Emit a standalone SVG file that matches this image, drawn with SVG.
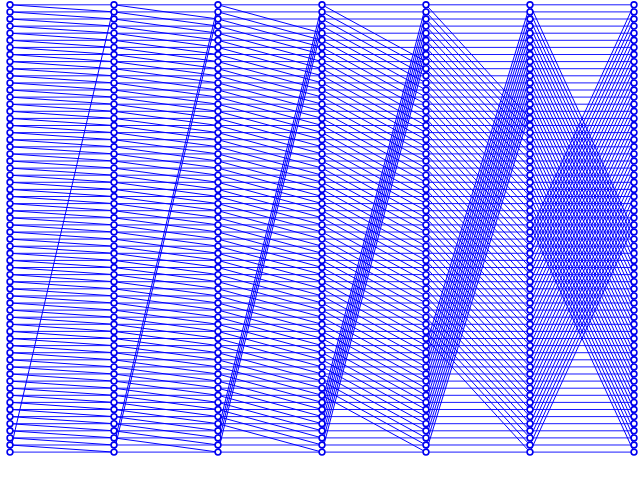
<svg xmlns="http://www.w3.org/2000/svg" width="640" height="483" viewBox="0 0 640 483">
<style>
.e{fill:none;stroke:#0000ff;stroke-width:1;vector-effect:non-scaling-stroke}
.h{fill:none;stroke:#1a1aff;stroke-width:1;vector-effect:non-scaling-stroke}
circle{fill:#fff;stroke:#0000ee;stroke-width:1.6}
</style>
<rect width="640" height="483" fill="#fff"/>
<g id="connectors" transform="translate(10 4.8) scale(104 7.1)">
<path class="h" d="M0 0H6M0 1H6M0 2H6M0 3H6M0 4H6M0 5H6M0 6H6M0 7H6M0 8H6M0 9H6M0 10H6M0 11H6M0 12H6M0 13H6M0 14H6M0 15H6M0 16H6M0 17H6M0 18H6M0 19H6M0 20H6M0 21H6M0 22H6M0 23H6M0 24H6M0 25H6M0 26H6M0 27H6M0 28H6M0 29H6M0 30H6M0 31H6M0 32H6M0 33H6M0 34H6M0 35H6M0 36H6M0 37H6M0 38H6M0 39H6M0 40H6M0 41H6M0 42H6M0 43H6M0 44H6M0 45H6M0 46H6M0 47H6M0 48H6M0 49H6M0 50H6M0 51H6M0 52H6M0 53H6M0 54H6M0 55H6M0 56H6M0 57H6M0 58H6M0 59H6M0 60H6M0 61H6M0 62H6M0 63H6"/>
<path class="e" d="M0 0l1 1M0 1l1 1M0 2l1 1M0 3l1 1M0 4l1 1M0 5l1 1M0 6l1 1M0 7l1 1M0 8l1 1M0 9l1 1M0 10l1 1M0 11l1 1M0 12l1 1M0 13l1 1M0 14l1 1M0 15l1 1M0 16l1 1M0 17l1 1M0 18l1 1M0 19l1 1M0 20l1 1M0 21l1 1M0 22l1 1M0 23l1 1M0 24l1 1M0 25l1 1M0 26l1 1M0 27l1 1M0 28l1 1M0 29l1 1M0 30l1 1M0 31l1 1M0 32l1 1M0 33l1 1M0 34l1 1M0 35l1 1M0 36l1 1M0 37l1 1M0 38l1 1M0 39l1 1M0 40l1 1M0 41l1 1M0 42l1 1M0 43l1 1M0 44l1 1M0 45l1 1M0 46l1 1M0 47l1 1M0 48l1 1M0 49l1 1M0 50l1 1M0 51l1 1M0 52l1 1M0 53l1 1M0 54l1 1M0 55l1 1M0 56l1 1M0 57l1 1M0 58l1 1M0 59l1 1M0 60l1 1M0 61l1 1M0 62l1 1M0 63L1 0"/>
<path class="e" d="M1 0l1 2M1 1l1 2M1 2l1 2M1 3l1 2M1 4l1 2M1 5l1 2M1 6l1 2M1 7l1 2M1 8l1 2M1 9l1 2M1 10l1 2M1 11l1 2M1 12l1 2M1 13l1 2M1 14l1 2M1 15l1 2M1 16l1 2M1 17l1 2M1 18l1 2M1 19l1 2M1 20l1 2M1 21l1 2M1 22l1 2M1 23l1 2M1 24l1 2M1 25l1 2M1 26l1 2M1 27l1 2M1 28l1 2M1 29l1 2M1 30l1 2M1 31l1 2M1 32l1 2M1 33l1 2M1 34l1 2M1 35l1 2M1 36l1 2M1 37l1 2M1 38l1 2M1 39l1 2M1 40l1 2M1 41l1 2M1 42l1 2M1 43l1 2M1 44l1 2M1 45l1 2M1 46l1 2M1 47l1 2M1 48l1 2M1 49l1 2M1 50l1 2M1 51l1 2M1 52l1 2M1 53l1 2M1 54l1 2M1 55l1 2M1 56l1 2M1 57l1 2M1 58l1 2M1 59l1 2M1 60l1 2M1 61l1 2M1 62L2 0M1 63L2 1"/>
<path class="e" d="M2 0l1 4M2 1l1 4M2 2l1 4M2 3l1 4M2 4l1 4M2 5l1 4M2 6l1 4M2 7l1 4M2 8l1 4M2 9l1 4M2 10l1 4M2 11l1 4M2 12l1 4M2 13l1 4M2 14l1 4M2 15l1 4M2 16l1 4M2 17l1 4M2 18l1 4M2 19l1 4M2 20l1 4M2 21l1 4M2 22l1 4M2 23l1 4M2 24l1 4M2 25l1 4M2 26l1 4M2 27l1 4M2 28l1 4M2 29l1 4M2 30l1 4M2 31l1 4M2 32l1 4M2 33l1 4M2 34l1 4M2 35l1 4M2 36l1 4M2 37l1 4M2 38l1 4M2 39l1 4M2 40l1 4M2 41l1 4M2 42l1 4M2 43l1 4M2 44l1 4M2 45l1 4M2 46l1 4M2 47l1 4M2 48l1 4M2 49l1 4M2 50l1 4M2 51l1 4M2 52l1 4M2 53l1 4M2 54l1 4M2 55l1 4M2 56l1 4M2 57l1 4M2 58l1 4M2 59l1 4M2 60L3 0M2 61L3 1M2 62L3 2M2 63L3 3"/>
<path class="e" d="M3 0l1 8M3 1l1 8M3 2l1 8M3 3l1 8M3 4l1 8M3 5l1 8M3 6l1 8M3 7l1 8M3 8l1 8M3 9l1 8M3 10l1 8M3 11l1 8M3 12l1 8M3 13l1 8M3 14l1 8M3 15l1 8M3 16l1 8M3 17l1 8M3 18l1 8M3 19l1 8M3 20l1 8M3 21l1 8M3 22l1 8M3 23l1 8M3 24l1 8M3 25l1 8M3 26l1 8M3 27l1 8M3 28l1 8M3 29l1 8M3 30l1 8M3 31l1 8M3 32l1 8M3 33l1 8M3 34l1 8M3 35l1 8M3 36l1 8M3 37l1 8M3 38l1 8M3 39l1 8M3 40l1 8M3 41l1 8M3 42l1 8M3 43l1 8M3 44l1 8M3 45l1 8M3 46l1 8M3 47l1 8M3 48l1 8M3 49l1 8M3 50l1 8M3 51l1 8M3 52l1 8M3 53l1 8M3 54l1 8M3 55l1 8M3 56L4 0M3 57L4 1M3 58L4 2M3 59L4 3M3 60L4 4M3 61L4 5M3 62L4 6M3 63L4 7"/>
<path class="e" d="M4 0l1 16M4 1l1 16M4 2l1 16M4 3l1 16M4 4l1 16M4 5l1 16M4 6l1 16M4 7l1 16M4 8l1 16M4 9l1 16M4 10l1 16M4 11l1 16M4 12l1 16M4 13l1 16M4 14l1 16M4 15l1 16M4 16l1 16M4 17l1 16M4 18l1 16M4 19l1 16M4 20l1 16M4 21l1 16M4 22l1 16M4 23l1 16M4 24l1 16M4 25l1 16M4 26l1 16M4 27l1 16M4 28l1 16M4 29l1 16M4 30l1 16M4 31l1 16M4 32l1 16M4 33l1 16M4 34l1 16M4 35l1 16M4 36l1 16M4 37l1 16M4 38l1 16M4 39l1 16M4 40l1 16M4 41l1 16M4 42l1 16M4 43l1 16M4 44l1 16M4 45l1 16M4 46l1 16M4 47l1 16M4 48L5 0M4 49L5 1M4 50L5 2M4 51L5 3M4 52L5 4M4 53L5 5M4 54L5 6M4 55L5 7M4 56L5 8M4 57L5 9M4 58L5 10M4 59L5 11M4 60L5 12M4 61L5 13M4 62L5 14M4 63L5 15"/>
<path class="e" d="M5 0l1 32M5 1l1 32M5 2l1 32M5 3l1 32M5 4l1 32M5 5l1 32M5 6l1 32M5 7l1 32M5 8l1 32M5 9l1 32M5 10l1 32M5 11l1 32M5 12l1 32M5 13l1 32M5 14l1 32M5 15l1 32M5 16l1 32M5 17l1 32M5 18l1 32M5 19l1 32M5 20l1 32M5 21l1 32M5 22l1 32M5 23l1 32M5 24l1 32M5 25l1 32M5 26l1 32M5 27l1 32M5 28l1 32M5 29l1 32M5 30l1 32M5 31l1 32M5 32L6 0M5 33L6 1M5 34L6 2M5 35L6 3M5 36L6 4M5 37L6 5M5 38L6 6M5 39L6 7M5 40L6 8M5 41L6 9M5 42L6 10M5 43L6 11M5 44L6 12M5 45L6 13M5 46L6 14M5 47L6 15M5 48L6 16M5 49L6 17M5 50L6 18M5 51L6 19M5 52L6 20M5 53L6 21M5 54L6 22M5 55L6 23M5 56L6 24M5 57L6 25M5 58L6 26M5 59L6 27M5 60L6 28M5 61L6 29M5 62L6 30M5 63L6 31"/>
</g>
<g id="col0" transform="translate(10 0)">
<g id="n0-0"><circle cy="4.8" r="2.9"/></g><g id="n0-1"><circle cy="11.9" r="2.9"/></g><g id="n0-2"><circle cy="19" r="2.9"/></g><g id="n0-3"><circle cy="26.1" r="2.9"/></g><g id="n0-4"><circle cy="33.2" r="2.9"/></g><g id="n0-5"><circle cy="40.3" r="2.9"/></g><g id="n0-6"><circle cy="47.4" r="2.9"/></g><g id="n0-7"><circle cy="54.5" r="2.9"/></g><g id="n0-8"><circle cy="61.6" r="2.9"/></g><g id="n0-9"><circle cy="68.7" r="2.9"/></g><g id="n0-10"><circle cy="75.8" r="2.9"/></g><g id="n0-11"><circle cy="82.9" r="2.9"/></g><g id="n0-12"><circle cy="90" r="2.9"/></g><g id="n0-13"><circle cy="97.1" r="2.9"/></g><g id="n0-14"><circle cy="104.2" r="2.9"/></g><g id="n0-15"><circle cy="111.3" r="2.9"/></g><g id="n0-16"><circle cy="118.4" r="2.9"/></g><g id="n0-17"><circle cy="125.5" r="2.9"/></g><g id="n0-18"><circle cy="132.6" r="2.9"/></g><g id="n0-19"><circle cy="139.7" r="2.9"/></g><g id="n0-20"><circle cy="146.8" r="2.9"/></g><g id="n0-21"><circle cy="153.9" r="2.9"/></g><g id="n0-22"><circle cy="161" r="2.9"/></g><g id="n0-23"><circle cy="168.1" r="2.9"/></g><g id="n0-24"><circle cy="175.2" r="2.9"/></g><g id="n0-25"><circle cy="182.3" r="2.9"/></g><g id="n0-26"><circle cy="189.4" r="2.9"/></g><g id="n0-27"><circle cy="196.5" r="2.9"/></g><g id="n0-28"><circle cy="203.6" r="2.9"/></g><g id="n0-29"><circle cy="210.7" r="2.9"/></g><g id="n0-30"><circle cy="217.8" r="2.9"/></g><g id="n0-31"><circle cy="224.9" r="2.9"/></g><g id="n0-32"><circle cy="232" r="2.9"/></g><g id="n0-33"><circle cy="239.1" r="2.9"/></g><g id="n0-34"><circle cy="246.2" r="2.9"/></g><g id="n0-35"><circle cy="253.3" r="2.9"/></g><g id="n0-36"><circle cy="260.4" r="2.9"/></g><g id="n0-37"><circle cy="267.5" r="2.9"/></g><g id="n0-38"><circle cy="274.6" r="2.9"/></g><g id="n0-39"><circle cy="281.7" r="2.9"/></g><g id="n0-40"><circle cy="288.8" r="2.9"/></g><g id="n0-41"><circle cy="295.9" r="2.9"/></g><g id="n0-42"><circle cy="303" r="2.9"/></g><g id="n0-43"><circle cy="310.1" r="2.9"/></g><g id="n0-44"><circle cy="317.2" r="2.9"/></g><g id="n0-45"><circle cy="324.3" r="2.9"/></g><g id="n0-46"><circle cy="331.4" r="2.9"/></g><g id="n0-47"><circle cy="338.5" r="2.9"/></g><g id="n0-48"><circle cy="345.6" r="2.9"/></g><g id="n0-49"><circle cy="352.7" r="2.9"/></g><g id="n0-50"><circle cy="359.8" r="2.9"/></g><g id="n0-51"><circle cy="366.9" r="2.9"/></g><g id="n0-52"><circle cy="374" r="2.9"/></g><g id="n0-53"><circle cy="381.1" r="2.9"/></g><g id="n0-54"><circle cy="388.2" r="2.9"/></g><g id="n0-55"><circle cy="395.3" r="2.9"/></g><g id="n0-56"><circle cy="402.4" r="2.9"/></g><g id="n0-57"><circle cy="409.5" r="2.9"/></g><g id="n0-58"><circle cy="416.6" r="2.9"/></g><g id="n0-59"><circle cy="423.7" r="2.9"/></g><g id="n0-60"><circle cy="430.8" r="2.9"/></g><g id="n0-61"><circle cy="437.9" r="2.9"/></g><g id="n0-62"><circle cy="445" r="2.9"/></g><g id="n0-63"><circle cy="452.1" r="2.9"/></g>
</g>
<g id="col1" transform="translate(114 0)">
<g id="n1-0"><circle cy="4.8" r="2.9"/></g><g id="n1-1"><circle cy="11.9" r="2.9"/></g><g id="n1-2"><circle cy="19" r="2.9"/></g><g id="n1-3"><circle cy="26.1" r="2.9"/></g><g id="n1-4"><circle cy="33.2" r="2.9"/></g><g id="n1-5"><circle cy="40.3" r="2.9"/></g><g id="n1-6"><circle cy="47.4" r="2.9"/></g><g id="n1-7"><circle cy="54.5" r="2.9"/></g><g id="n1-8"><circle cy="61.6" r="2.9"/></g><g id="n1-9"><circle cy="68.7" r="2.9"/></g><g id="n1-10"><circle cy="75.8" r="2.9"/></g><g id="n1-11"><circle cy="82.9" r="2.9"/></g><g id="n1-12"><circle cy="90" r="2.9"/></g><g id="n1-13"><circle cy="97.1" r="2.9"/></g><g id="n1-14"><circle cy="104.2" r="2.9"/></g><g id="n1-15"><circle cy="111.3" r="2.9"/></g><g id="n1-16"><circle cy="118.4" r="2.9"/></g><g id="n1-17"><circle cy="125.5" r="2.9"/></g><g id="n1-18"><circle cy="132.6" r="2.9"/></g><g id="n1-19"><circle cy="139.7" r="2.9"/></g><g id="n1-20"><circle cy="146.8" r="2.9"/></g><g id="n1-21"><circle cy="153.9" r="2.9"/></g><g id="n1-22"><circle cy="161" r="2.9"/></g><g id="n1-23"><circle cy="168.1" r="2.9"/></g><g id="n1-24"><circle cy="175.2" r="2.9"/></g><g id="n1-25"><circle cy="182.3" r="2.9"/></g><g id="n1-26"><circle cy="189.4" r="2.9"/></g><g id="n1-27"><circle cy="196.5" r="2.9"/></g><g id="n1-28"><circle cy="203.6" r="2.9"/></g><g id="n1-29"><circle cy="210.7" r="2.9"/></g><g id="n1-30"><circle cy="217.8" r="2.9"/></g><g id="n1-31"><circle cy="224.9" r="2.9"/></g><g id="n1-32"><circle cy="232" r="2.9"/></g><g id="n1-33"><circle cy="239.1" r="2.9"/></g><g id="n1-34"><circle cy="246.2" r="2.9"/></g><g id="n1-35"><circle cy="253.3" r="2.9"/></g><g id="n1-36"><circle cy="260.4" r="2.9"/></g><g id="n1-37"><circle cy="267.5" r="2.9"/></g><g id="n1-38"><circle cy="274.6" r="2.9"/></g><g id="n1-39"><circle cy="281.7" r="2.9"/></g><g id="n1-40"><circle cy="288.8" r="2.9"/></g><g id="n1-41"><circle cy="295.9" r="2.9"/></g><g id="n1-42"><circle cy="303" r="2.9"/></g><g id="n1-43"><circle cy="310.1" r="2.9"/></g><g id="n1-44"><circle cy="317.2" r="2.9"/></g><g id="n1-45"><circle cy="324.3" r="2.9"/></g><g id="n1-46"><circle cy="331.4" r="2.9"/></g><g id="n1-47"><circle cy="338.5" r="2.9"/></g><g id="n1-48"><circle cy="345.6" r="2.9"/></g><g id="n1-49"><circle cy="352.7" r="2.9"/></g><g id="n1-50"><circle cy="359.8" r="2.9"/></g><g id="n1-51"><circle cy="366.9" r="2.9"/></g><g id="n1-52"><circle cy="374" r="2.9"/></g><g id="n1-53"><circle cy="381.1" r="2.9"/></g><g id="n1-54"><circle cy="388.2" r="2.9"/></g><g id="n1-55"><circle cy="395.3" r="2.9"/></g><g id="n1-56"><circle cy="402.4" r="2.9"/></g><g id="n1-57"><circle cy="409.5" r="2.9"/></g><g id="n1-58"><circle cy="416.6" r="2.9"/></g><g id="n1-59"><circle cy="423.7" r="2.9"/></g><g id="n1-60"><circle cy="430.8" r="2.9"/></g><g id="n1-61"><circle cy="437.9" r="2.9"/></g><g id="n1-62"><circle cy="445" r="2.9"/></g><g id="n1-63"><circle cy="452.1" r="2.9"/></g>
</g>
<g id="col2" transform="translate(218 0)">
<g id="n2-0"><circle cy="4.8" r="2.9"/></g><g id="n2-1"><circle cy="11.9" r="2.9"/></g><g id="n2-2"><circle cy="19" r="2.9"/></g><g id="n2-3"><circle cy="26.1" r="2.9"/></g><g id="n2-4"><circle cy="33.2" r="2.9"/></g><g id="n2-5"><circle cy="40.3" r="2.9"/></g><g id="n2-6"><circle cy="47.4" r="2.9"/></g><g id="n2-7"><circle cy="54.5" r="2.9"/></g><g id="n2-8"><circle cy="61.6" r="2.9"/></g><g id="n2-9"><circle cy="68.7" r="2.9"/></g><g id="n2-10"><circle cy="75.8" r="2.9"/></g><g id="n2-11"><circle cy="82.9" r="2.9"/></g><g id="n2-12"><circle cy="90" r="2.9"/></g><g id="n2-13"><circle cy="97.1" r="2.9"/></g><g id="n2-14"><circle cy="104.2" r="2.9"/></g><g id="n2-15"><circle cy="111.3" r="2.9"/></g><g id="n2-16"><circle cy="118.4" r="2.9"/></g><g id="n2-17"><circle cy="125.5" r="2.9"/></g><g id="n2-18"><circle cy="132.6" r="2.9"/></g><g id="n2-19"><circle cy="139.7" r="2.9"/></g><g id="n2-20"><circle cy="146.8" r="2.9"/></g><g id="n2-21"><circle cy="153.9" r="2.9"/></g><g id="n2-22"><circle cy="161" r="2.9"/></g><g id="n2-23"><circle cy="168.1" r="2.9"/></g><g id="n2-24"><circle cy="175.2" r="2.9"/></g><g id="n2-25"><circle cy="182.3" r="2.9"/></g><g id="n2-26"><circle cy="189.4" r="2.9"/></g><g id="n2-27"><circle cy="196.5" r="2.9"/></g><g id="n2-28"><circle cy="203.6" r="2.9"/></g><g id="n2-29"><circle cy="210.7" r="2.9"/></g><g id="n2-30"><circle cy="217.8" r="2.9"/></g><g id="n2-31"><circle cy="224.9" r="2.9"/></g><g id="n2-32"><circle cy="232" r="2.9"/></g><g id="n2-33"><circle cy="239.1" r="2.9"/></g><g id="n2-34"><circle cy="246.2" r="2.9"/></g><g id="n2-35"><circle cy="253.3" r="2.9"/></g><g id="n2-36"><circle cy="260.4" r="2.9"/></g><g id="n2-37"><circle cy="267.5" r="2.9"/></g><g id="n2-38"><circle cy="274.6" r="2.9"/></g><g id="n2-39"><circle cy="281.7" r="2.9"/></g><g id="n2-40"><circle cy="288.8" r="2.9"/></g><g id="n2-41"><circle cy="295.9" r="2.9"/></g><g id="n2-42"><circle cy="303" r="2.9"/></g><g id="n2-43"><circle cy="310.1" r="2.9"/></g><g id="n2-44"><circle cy="317.2" r="2.9"/></g><g id="n2-45"><circle cy="324.3" r="2.9"/></g><g id="n2-46"><circle cy="331.4" r="2.9"/></g><g id="n2-47"><circle cy="338.5" r="2.9"/></g><g id="n2-48"><circle cy="345.6" r="2.9"/></g><g id="n2-49"><circle cy="352.7" r="2.9"/></g><g id="n2-50"><circle cy="359.8" r="2.9"/></g><g id="n2-51"><circle cy="366.9" r="2.9"/></g><g id="n2-52"><circle cy="374" r="2.9"/></g><g id="n2-53"><circle cy="381.1" r="2.9"/></g><g id="n2-54"><circle cy="388.2" r="2.9"/></g><g id="n2-55"><circle cy="395.3" r="2.9"/></g><g id="n2-56"><circle cy="402.4" r="2.9"/></g><g id="n2-57"><circle cy="409.5" r="2.9"/></g><g id="n2-58"><circle cy="416.6" r="2.9"/></g><g id="n2-59"><circle cy="423.7" r="2.9"/></g><g id="n2-60"><circle cy="430.8" r="2.9"/></g><g id="n2-61"><circle cy="437.9" r="2.9"/></g><g id="n2-62"><circle cy="445" r="2.9"/></g><g id="n2-63"><circle cy="452.1" r="2.9"/></g>
</g>
<g id="col3" transform="translate(322 0)">
<g id="n3-0"><circle cy="4.8" r="2.9"/></g><g id="n3-1"><circle cy="11.9" r="2.9"/></g><g id="n3-2"><circle cy="19" r="2.9"/></g><g id="n3-3"><circle cy="26.1" r="2.9"/></g><g id="n3-4"><circle cy="33.2" r="2.9"/></g><g id="n3-5"><circle cy="40.3" r="2.9"/></g><g id="n3-6"><circle cy="47.4" r="2.9"/></g><g id="n3-7"><circle cy="54.5" r="2.9"/></g><g id="n3-8"><circle cy="61.6" r="2.9"/></g><g id="n3-9"><circle cy="68.7" r="2.9"/></g><g id="n3-10"><circle cy="75.8" r="2.9"/></g><g id="n3-11"><circle cy="82.9" r="2.9"/></g><g id="n3-12"><circle cy="90" r="2.9"/></g><g id="n3-13"><circle cy="97.1" r="2.9"/></g><g id="n3-14"><circle cy="104.2" r="2.9"/></g><g id="n3-15"><circle cy="111.3" r="2.9"/></g><g id="n3-16"><circle cy="118.4" r="2.9"/></g><g id="n3-17"><circle cy="125.5" r="2.9"/></g><g id="n3-18"><circle cy="132.6" r="2.9"/></g><g id="n3-19"><circle cy="139.7" r="2.9"/></g><g id="n3-20"><circle cy="146.8" r="2.9"/></g><g id="n3-21"><circle cy="153.9" r="2.9"/></g><g id="n3-22"><circle cy="161" r="2.9"/></g><g id="n3-23"><circle cy="168.1" r="2.9"/></g><g id="n3-24"><circle cy="175.2" r="2.9"/></g><g id="n3-25"><circle cy="182.3" r="2.9"/></g><g id="n3-26"><circle cy="189.4" r="2.9"/></g><g id="n3-27"><circle cy="196.5" r="2.9"/></g><g id="n3-28"><circle cy="203.6" r="2.9"/></g><g id="n3-29"><circle cy="210.7" r="2.9"/></g><g id="n3-30"><circle cy="217.8" r="2.9"/></g><g id="n3-31"><circle cy="224.9" r="2.9"/></g><g id="n3-32"><circle cy="232" r="2.9"/></g><g id="n3-33"><circle cy="239.1" r="2.9"/></g><g id="n3-34"><circle cy="246.2" r="2.9"/></g><g id="n3-35"><circle cy="253.3" r="2.9"/></g><g id="n3-36"><circle cy="260.4" r="2.9"/></g><g id="n3-37"><circle cy="267.5" r="2.9"/></g><g id="n3-38"><circle cy="274.6" r="2.9"/></g><g id="n3-39"><circle cy="281.7" r="2.9"/></g><g id="n3-40"><circle cy="288.8" r="2.9"/></g><g id="n3-41"><circle cy="295.9" r="2.9"/></g><g id="n3-42"><circle cy="303" r="2.9"/></g><g id="n3-43"><circle cy="310.1" r="2.9"/></g><g id="n3-44"><circle cy="317.2" r="2.9"/></g><g id="n3-45"><circle cy="324.3" r="2.9"/></g><g id="n3-46"><circle cy="331.4" r="2.9"/></g><g id="n3-47"><circle cy="338.5" r="2.9"/></g><g id="n3-48"><circle cy="345.6" r="2.9"/></g><g id="n3-49"><circle cy="352.7" r="2.9"/></g><g id="n3-50"><circle cy="359.8" r="2.9"/></g><g id="n3-51"><circle cy="366.9" r="2.9"/></g><g id="n3-52"><circle cy="374" r="2.9"/></g><g id="n3-53"><circle cy="381.1" r="2.9"/></g><g id="n3-54"><circle cy="388.2" r="2.9"/></g><g id="n3-55"><circle cy="395.3" r="2.9"/></g><g id="n3-56"><circle cy="402.4" r="2.9"/></g><g id="n3-57"><circle cy="409.5" r="2.9"/></g><g id="n3-58"><circle cy="416.6" r="2.9"/></g><g id="n3-59"><circle cy="423.7" r="2.9"/></g><g id="n3-60"><circle cy="430.8" r="2.9"/></g><g id="n3-61"><circle cy="437.9" r="2.9"/></g><g id="n3-62"><circle cy="445" r="2.9"/></g><g id="n3-63"><circle cy="452.1" r="2.9"/></g>
</g>
<g id="col4" transform="translate(426 0)">
<g id="n4-0"><circle cy="4.8" r="2.9"/></g><g id="n4-1"><circle cy="11.9" r="2.9"/></g><g id="n4-2"><circle cy="19" r="2.9"/></g><g id="n4-3"><circle cy="26.1" r="2.9"/></g><g id="n4-4"><circle cy="33.2" r="2.9"/></g><g id="n4-5"><circle cy="40.3" r="2.9"/></g><g id="n4-6"><circle cy="47.4" r="2.9"/></g><g id="n4-7"><circle cy="54.5" r="2.9"/></g><g id="n4-8"><circle cy="61.6" r="2.9"/></g><g id="n4-9"><circle cy="68.7" r="2.9"/></g><g id="n4-10"><circle cy="75.8" r="2.9"/></g><g id="n4-11"><circle cy="82.9" r="2.9"/></g><g id="n4-12"><circle cy="90" r="2.9"/></g><g id="n4-13"><circle cy="97.1" r="2.9"/></g><g id="n4-14"><circle cy="104.2" r="2.9"/></g><g id="n4-15"><circle cy="111.3" r="2.9"/></g><g id="n4-16"><circle cy="118.4" r="2.9"/></g><g id="n4-17"><circle cy="125.5" r="2.9"/></g><g id="n4-18"><circle cy="132.6" r="2.9"/></g><g id="n4-19"><circle cy="139.7" r="2.9"/></g><g id="n4-20"><circle cy="146.8" r="2.9"/></g><g id="n4-21"><circle cy="153.9" r="2.9"/></g><g id="n4-22"><circle cy="161" r="2.9"/></g><g id="n4-23"><circle cy="168.1" r="2.9"/></g><g id="n4-24"><circle cy="175.2" r="2.9"/></g><g id="n4-25"><circle cy="182.3" r="2.9"/></g><g id="n4-26"><circle cy="189.4" r="2.9"/></g><g id="n4-27"><circle cy="196.5" r="2.9"/></g><g id="n4-28"><circle cy="203.6" r="2.9"/></g><g id="n4-29"><circle cy="210.7" r="2.9"/></g><g id="n4-30"><circle cy="217.8" r="2.9"/></g><g id="n4-31"><circle cy="224.9" r="2.9"/></g><g id="n4-32"><circle cy="232" r="2.9"/></g><g id="n4-33"><circle cy="239.1" r="2.9"/></g><g id="n4-34"><circle cy="246.2" r="2.9"/></g><g id="n4-35"><circle cy="253.3" r="2.9"/></g><g id="n4-36"><circle cy="260.4" r="2.9"/></g><g id="n4-37"><circle cy="267.5" r="2.9"/></g><g id="n4-38"><circle cy="274.6" r="2.9"/></g><g id="n4-39"><circle cy="281.7" r="2.9"/></g><g id="n4-40"><circle cy="288.8" r="2.9"/></g><g id="n4-41"><circle cy="295.9" r="2.9"/></g><g id="n4-42"><circle cy="303" r="2.9"/></g><g id="n4-43"><circle cy="310.1" r="2.9"/></g><g id="n4-44"><circle cy="317.2" r="2.9"/></g><g id="n4-45"><circle cy="324.3" r="2.9"/></g><g id="n4-46"><circle cy="331.4" r="2.9"/></g><g id="n4-47"><circle cy="338.5" r="2.9"/></g><g id="n4-48"><circle cy="345.6" r="2.9"/></g><g id="n4-49"><circle cy="352.7" r="2.9"/></g><g id="n4-50"><circle cy="359.8" r="2.9"/></g><g id="n4-51"><circle cy="366.9" r="2.9"/></g><g id="n4-52"><circle cy="374" r="2.9"/></g><g id="n4-53"><circle cy="381.1" r="2.9"/></g><g id="n4-54"><circle cy="388.2" r="2.9"/></g><g id="n4-55"><circle cy="395.3" r="2.9"/></g><g id="n4-56"><circle cy="402.4" r="2.9"/></g><g id="n4-57"><circle cy="409.5" r="2.9"/></g><g id="n4-58"><circle cy="416.6" r="2.9"/></g><g id="n4-59"><circle cy="423.7" r="2.9"/></g><g id="n4-60"><circle cy="430.8" r="2.9"/></g><g id="n4-61"><circle cy="437.9" r="2.9"/></g><g id="n4-62"><circle cy="445" r="2.9"/></g><g id="n4-63"><circle cy="452.1" r="2.9"/></g>
</g>
<g id="col5" transform="translate(530 0)">
<g id="n5-0"><circle cy="4.8" r="2.9"/></g><g id="n5-1"><circle cy="11.9" r="2.9"/></g><g id="n5-2"><circle cy="19" r="2.9"/></g><g id="n5-3"><circle cy="26.1" r="2.9"/></g><g id="n5-4"><circle cy="33.2" r="2.9"/></g><g id="n5-5"><circle cy="40.3" r="2.9"/></g><g id="n5-6"><circle cy="47.4" r="2.9"/></g><g id="n5-7"><circle cy="54.5" r="2.9"/></g><g id="n5-8"><circle cy="61.6" r="2.9"/></g><g id="n5-9"><circle cy="68.7" r="2.9"/></g><g id="n5-10"><circle cy="75.8" r="2.9"/></g><g id="n5-11"><circle cy="82.9" r="2.9"/></g><g id="n5-12"><circle cy="90" r="2.9"/></g><g id="n5-13"><circle cy="97.1" r="2.9"/></g><g id="n5-14"><circle cy="104.2" r="2.9"/></g><g id="n5-15"><circle cy="111.3" r="2.9"/></g><g id="n5-16"><circle cy="118.4" r="2.9"/></g><g id="n5-17"><circle cy="125.5" r="2.9"/></g><g id="n5-18"><circle cy="132.6" r="2.9"/></g><g id="n5-19"><circle cy="139.7" r="2.9"/></g><g id="n5-20"><circle cy="146.8" r="2.9"/></g><g id="n5-21"><circle cy="153.9" r="2.9"/></g><g id="n5-22"><circle cy="161" r="2.9"/></g><g id="n5-23"><circle cy="168.1" r="2.9"/></g><g id="n5-24"><circle cy="175.2" r="2.9"/></g><g id="n5-25"><circle cy="182.3" r="2.9"/></g><g id="n5-26"><circle cy="189.4" r="2.9"/></g><g id="n5-27"><circle cy="196.5" r="2.9"/></g><g id="n5-28"><circle cy="203.6" r="2.9"/></g><g id="n5-29"><circle cy="210.7" r="2.9"/></g><g id="n5-30"><circle cy="217.8" r="2.9"/></g><g id="n5-31"><circle cy="224.9" r="2.9"/></g><g id="n5-32"><circle cy="232" r="2.9"/></g><g id="n5-33"><circle cy="239.1" r="2.9"/></g><g id="n5-34"><circle cy="246.2" r="2.9"/></g><g id="n5-35"><circle cy="253.3" r="2.9"/></g><g id="n5-36"><circle cy="260.4" r="2.9"/></g><g id="n5-37"><circle cy="267.5" r="2.9"/></g><g id="n5-38"><circle cy="274.6" r="2.9"/></g><g id="n5-39"><circle cy="281.7" r="2.9"/></g><g id="n5-40"><circle cy="288.8" r="2.9"/></g><g id="n5-41"><circle cy="295.9" r="2.9"/></g><g id="n5-42"><circle cy="303" r="2.9"/></g><g id="n5-43"><circle cy="310.1" r="2.9"/></g><g id="n5-44"><circle cy="317.2" r="2.9"/></g><g id="n5-45"><circle cy="324.3" r="2.9"/></g><g id="n5-46"><circle cy="331.4" r="2.9"/></g><g id="n5-47"><circle cy="338.5" r="2.9"/></g><g id="n5-48"><circle cy="345.6" r="2.9"/></g><g id="n5-49"><circle cy="352.7" r="2.9"/></g><g id="n5-50"><circle cy="359.8" r="2.9"/></g><g id="n5-51"><circle cy="366.9" r="2.9"/></g><g id="n5-52"><circle cy="374" r="2.9"/></g><g id="n5-53"><circle cy="381.1" r="2.9"/></g><g id="n5-54"><circle cy="388.2" r="2.9"/></g><g id="n5-55"><circle cy="395.3" r="2.9"/></g><g id="n5-56"><circle cy="402.4" r="2.9"/></g><g id="n5-57"><circle cy="409.5" r="2.9"/></g><g id="n5-58"><circle cy="416.6" r="2.9"/></g><g id="n5-59"><circle cy="423.7" r="2.9"/></g><g id="n5-60"><circle cy="430.8" r="2.9"/></g><g id="n5-61"><circle cy="437.9" r="2.9"/></g><g id="n5-62"><circle cy="445" r="2.9"/></g><g id="n5-63"><circle cy="452.1" r="2.9"/></g>
</g>
<g id="col6" transform="translate(634 0)">
<g id="n6-0"><circle cy="4.8" r="2.9"/></g><g id="n6-1"><circle cy="11.9" r="2.9"/></g><g id="n6-2"><circle cy="19" r="2.9"/></g><g id="n6-3"><circle cy="26.1" r="2.9"/></g><g id="n6-4"><circle cy="33.2" r="2.9"/></g><g id="n6-5"><circle cy="40.3" r="2.9"/></g><g id="n6-6"><circle cy="47.4" r="2.9"/></g><g id="n6-7"><circle cy="54.5" r="2.9"/></g><g id="n6-8"><circle cy="61.6" r="2.9"/></g><g id="n6-9"><circle cy="68.7" r="2.9"/></g><g id="n6-10"><circle cy="75.8" r="2.9"/></g><g id="n6-11"><circle cy="82.9" r="2.9"/></g><g id="n6-12"><circle cy="90" r="2.9"/></g><g id="n6-13"><circle cy="97.1" r="2.9"/></g><g id="n6-14"><circle cy="104.2" r="2.9"/></g><g id="n6-15"><circle cy="111.3" r="2.9"/></g><g id="n6-16"><circle cy="118.4" r="2.9"/></g><g id="n6-17"><circle cy="125.5" r="2.9"/></g><g id="n6-18"><circle cy="132.6" r="2.9"/></g><g id="n6-19"><circle cy="139.7" r="2.9"/></g><g id="n6-20"><circle cy="146.8" r="2.9"/></g><g id="n6-21"><circle cy="153.9" r="2.9"/></g><g id="n6-22"><circle cy="161" r="2.9"/></g><g id="n6-23"><circle cy="168.1" r="2.9"/></g><g id="n6-24"><circle cy="175.2" r="2.9"/></g><g id="n6-25"><circle cy="182.3" r="2.9"/></g><g id="n6-26"><circle cy="189.4" r="2.9"/></g><g id="n6-27"><circle cy="196.5" r="2.9"/></g><g id="n6-28"><circle cy="203.6" r="2.9"/></g><g id="n6-29"><circle cy="210.7" r="2.9"/></g><g id="n6-30"><circle cy="217.8" r="2.9"/></g><g id="n6-31"><circle cy="224.9" r="2.9"/></g><g id="n6-32"><circle cy="232" r="2.9"/></g><g id="n6-33"><circle cy="239.1" r="2.9"/></g><g id="n6-34"><circle cy="246.2" r="2.9"/></g><g id="n6-35"><circle cy="253.3" r="2.9"/></g><g id="n6-36"><circle cy="260.4" r="2.9"/></g><g id="n6-37"><circle cy="267.5" r="2.9"/></g><g id="n6-38"><circle cy="274.6" r="2.9"/></g><g id="n6-39"><circle cy="281.7" r="2.9"/></g><g id="n6-40"><circle cy="288.8" r="2.9"/></g><g id="n6-41"><circle cy="295.9" r="2.9"/></g><g id="n6-42"><circle cy="303" r="2.9"/></g><g id="n6-43"><circle cy="310.1" r="2.9"/></g><g id="n6-44"><circle cy="317.2" r="2.9"/></g><g id="n6-45"><circle cy="324.3" r="2.9"/></g><g id="n6-46"><circle cy="331.4" r="2.9"/></g><g id="n6-47"><circle cy="338.5" r="2.9"/></g><g id="n6-48"><circle cy="345.6" r="2.9"/></g><g id="n6-49"><circle cy="352.7" r="2.9"/></g><g id="n6-50"><circle cy="359.8" r="2.9"/></g><g id="n6-51"><circle cy="366.9" r="2.9"/></g><g id="n6-52"><circle cy="374" r="2.9"/></g><g id="n6-53"><circle cy="381.1" r="2.9"/></g><g id="n6-54"><circle cy="388.2" r="2.9"/></g><g id="n6-55"><circle cy="395.3" r="2.9"/></g><g id="n6-56"><circle cy="402.4" r="2.9"/></g><g id="n6-57"><circle cy="409.5" r="2.9"/></g><g id="n6-58"><circle cy="416.6" r="2.9"/></g><g id="n6-59"><circle cy="423.7" r="2.9"/></g><g id="n6-60"><circle cy="430.8" r="2.9"/></g><g id="n6-61"><circle cy="437.9" r="2.9"/></g><g id="n6-62"><circle cy="445" r="2.9"/></g><g id="n6-63"><circle cy="452.1" r="2.9"/></g>
</g>
</svg>
